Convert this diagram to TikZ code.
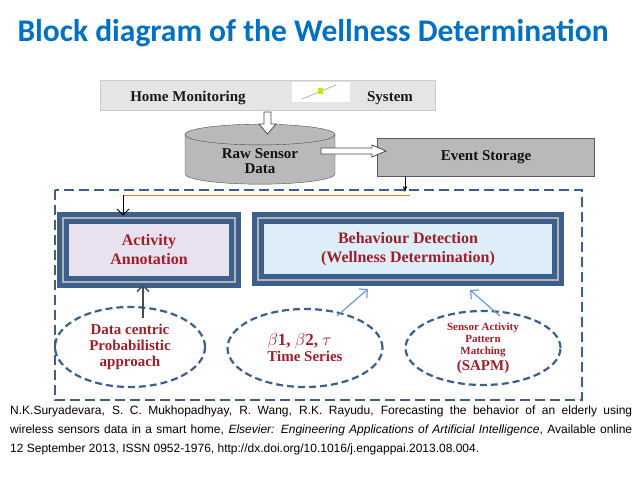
\documentclass[tikz,border=0pt]{standalone}
\usepackage{fontspec}
\setmainfont{Liberation Serif}
\newfontfamily\titlefont{Carlito}
\newfontfamily\citefont{Liberation Sans}
\usetikzlibrary{shapes.geometric,arrows.meta}
\definecolor{titleblue}{RGB}{0,112,192}
\definecolor{frameblue}{RGB}{60,95,140}
\definecolor{boxred}{RGB}{160,30,40}
\definecolor{lavender}{RGB}{232,226,240}
\definecolor{paleblue}{RGB}{222,238,248}
\tikzset{
  graybox/.style={draw=gray!70!black, fill=gray!55, thick},
  bevelbox/.style={draw=frameblue, line width=5pt, double=gray!60, double distance=2pt, font=\bfseries\fontsize{16}{19}\selectfont, text=boxred, align=center},
  dashellipse/.style={ellipse, draw=frameblue, dashed, dash pattern=on 7pt off 4pt, line width=2.2pt, font=\bfseries\fontsize{15}{16}\selectfont, text=boxred, align=center, inner sep=0pt},
  hollow/.style={draw=gray!60!black, fill=white, thick}
}
\begin{document}
\begin{tikzpicture}[x=1pt, y=-1pt]
    \useasboundingbox (0,0) rectangle (638,479);
    \node[anchor=west, text=titleblue, font=\titlefont\bfseries\fontsize{31.5}{34}\selectfont] (title) at (14,33) {Block diagram of the Wellness Determination};

    % Top chain
    \node[draw=gray!40, fill=gray!20, minimum width=335pt, minimum height=30pt] (home) at (268,95) {};
    \node[font=\bfseries\fontsize{15}{17}\selectfont, text=gray!20!black] (homel) at (188,98) {Home Monitoring};
    \node[font=\bfseries\fontsize{15}{17}\selectfont, text=gray!20!black] (homer) at (390,98) {System};
    \fill[white] (292,82) rectangle (350,102);
    \draw[gray] (302,99) -- (336,85);
    \fill[yellow!80!green] (318,88) rectangle (323,94);
    \node[cylinder, shape border rotate=90, aspect=0.25, draw=gray!60!black, fill=gray!55, minimum width=150pt, minimum height=50pt, align=center, font=\bfseries\fontsize{15}{15}\selectfont, text=gray!15!black] (raw) at (260,161) {Raw Sensor\\Data};
    \draw[hollow] (264,112) -- (271,112) -- (271,124) -- (276,124) -- (267.5,134) -- (259,124) -- (264,124) -- cycle;
    \node[graybox, minimum width=217pt, minimum height=38pt, font=\bfseries\fontsize{15}{17}\selectfont, text=gray!15!black] (event) at (486,157) {Event Storage};
    \draw[hollow] (321,148) -- (372,148) -- (372,145) -- (386,151) -- (372,157) -- (372,154) -- (321,154) -- cycle;

    % Dashed frame
    \draw[frameblue, line width=2.5pt, dash pattern=on 10pt off 5pt] (55,190) rectangle (582,400);
    \coordinate (turn) at (123,195);
    \coordinate (split) at (410,195);
    \draw[-{Stealth[length=6pt]}, thick] (event.south -| 405,0) -- (405,192);
    \draw[orange!60!brown, thick] (split) -- (turn);

    % Inner boxes
    \node[bevelbox, fill=lavender, minimum width=172pt, minimum height=64pt] (act) at (149,250) {Activity\\Annotation};
    \node[bevelbox, fill=paleblue, minimum width=300pt, minimum height=62pt] (beh) at (408,249) {Behaviour Detection\\(Wellness Determination)};
    \draw[-{Straight Barb[length=6pt]}, thick] (turn) -- (act.north -| turn);

    % Ellipses
    \node[dashellipse, minimum width=150pt, minimum height=80pt] (data) at (130,347) {Data centric\\Probabilistic\\approach};
    \node[dashellipse, minimum width=155pt, minimum height=78pt, align=left] (beta) at (305,348) {{\fontsize{17}{19}\selectfont$\beta$1, $\beta$2, $\tau$}\\Time Series};
    \node[dashellipse, minimum width=155pt, minimum height=74pt, font=\bfseries\fontsize{11}{12}\selectfont] (sapm) at (483,348) {Sensor Activity\\Pattern\\Matching\\[2pt]{\fontsize{15}{16}\selectfont(SAPM)}};
    \draw[-{Straight Barb[length=6pt]}, gray!60!black, line width=1.5pt] (143,318) -- (act.south -| 143,0);
    \draw[-{Straight Barb[length=6pt]}, cyan!50!blue!60, line width=1.2pt] (337,316) -- (368,289);
    \draw[-{Straight Barb[length=6pt]}, cyan!50!blue!60, line width=1.2pt] (500,316) -- (470,290);

    % Citation
    \node[anchor=north west, text width=622pt, align=justify, font=\citefont\fontsize{12}{19}\selectfont, inner sep=0pt] (cite) at (10,406) {N.K.Suryadevara, S. C. Mukhopadhyay, R. Wang, R.K. Rayudu, Forecasting the behavior of an elderly using\linebreak wireless sensors data in a smart home, \textit{Elsevier: Engineering Applications of Artificial Intelligence}, Available online\linebreak 12 September 2013, ISSN 0952-1976, http://dx.doi.org/10.1016/j.engappai.2013.08.004.};
\end{tikzpicture}
\end{document}
